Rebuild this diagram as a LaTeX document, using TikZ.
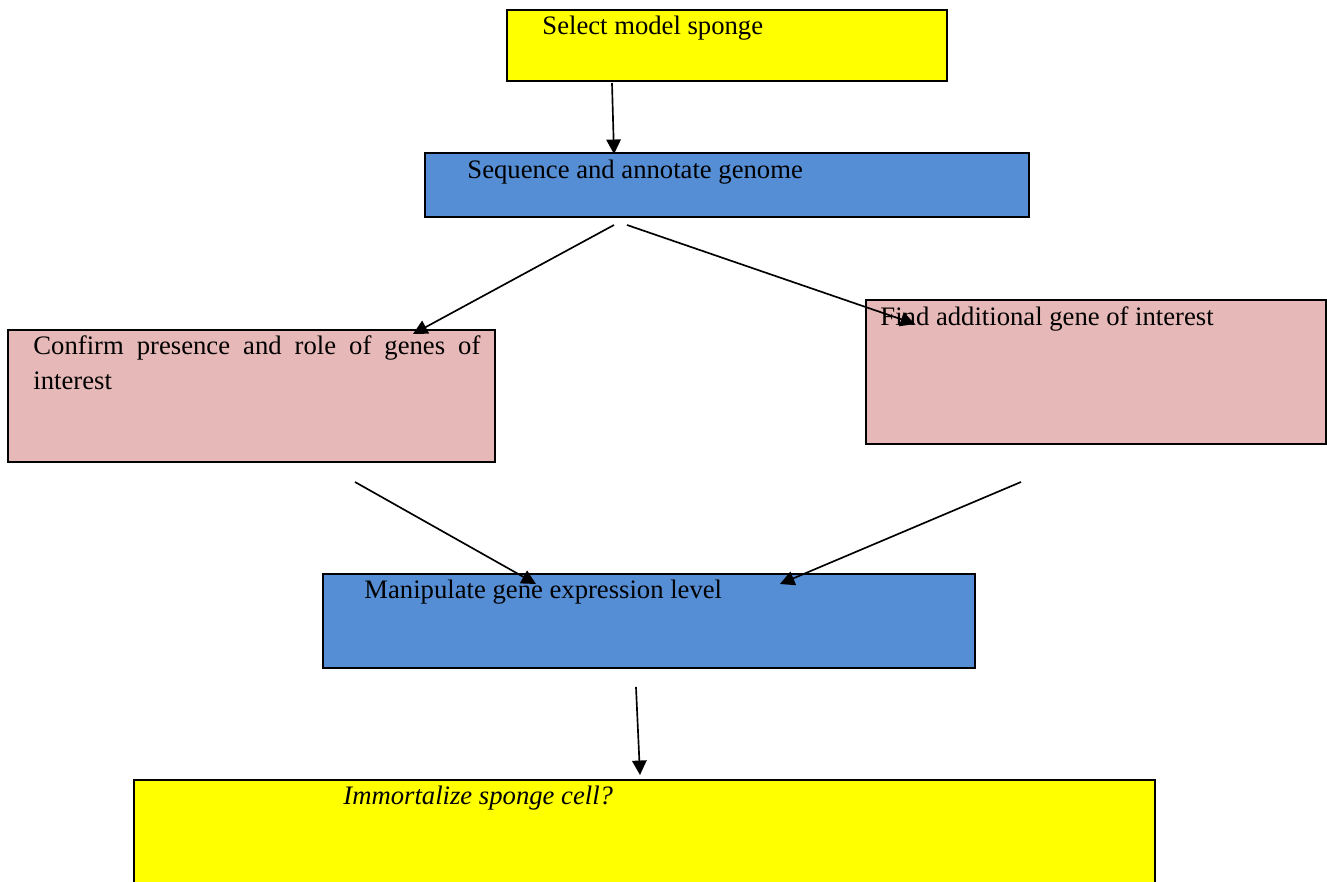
\documentclass[tikz,border=0pt]{standalone}
\usepackage{fontspec}
\setmainfont{Liberation Serif}
\usetikzlibrary{arrows.meta}
\definecolor{yel}{RGB}{255,255,0}
\definecolor{blu}{RGB}{85,142,213}
\definecolor{pnk}{RGB}{230,184,183}
\tikzset{
  box/.style={draw=black, line width=1pt, inner sep=0pt, outer sep=0pt, anchor=north west},
  txt/.style={anchor=base west, inner sep=0pt, font=\fontsize{12}{15.75}\selectfont},
  arr/.style={line width=0.75pt, -{Triangle[length=6.5pt,width=6.5pt]}}
}
\begin{document}
\begin{tikzpicture}[x=0.45pt,y=-0.45pt]
\useasboundingbox (0,0) rectangle (1327,882);
% boxes
\node[box, fill=yel, minimum width=440*0.45pt, minimum height=71*0.45pt] (select) at (507,10) {};
\node[box, fill=blu, minimum width=604*0.45pt, minimum height=64*0.45pt] (seq) at (425,153) {};
\node[box, fill=pnk, minimum width=487*0.45pt, minimum height=132*0.45pt] (conf) at (8,330) {};
\node[box, fill=pnk, minimum width=460*0.45pt, minimum height=144*0.45pt] (find) at (866,300) {};
\node[box, fill=blu, minimum width=652*0.45pt, minimum height=94*0.45pt] (manip) at (323,574) {};
\node[box, fill=yel, minimum width=1021*0.45pt, minimum height=140*0.45pt] (immo) at (134,780) {};
% texts
\node[txt] (selectT) at (542,35) {Select model sponge};
\node[txt] (seqT) at (467,179) {Sequence and annotate genome};
\node[txt, align=left] (confT) at (33,390) {\makebox[201.15pt][s]{Confirm presence and role of genes of}\\interest};
\node[txt] (findT) at (880,326) {Find additional gene of interest};
\node[txt] (manipT) at (364,599) {Manipulate gene expression level};
\node[txt, font=\fontsize{12}{15.75}\selectfont\itshape] (immoT) at (343,805) {Immortalize sponge cell?};
% connector end points
\coordinate (a1s) at (612,83);   \coordinate (a1e) at (614,154);
\coordinate (a2s) at (614,225);  \coordinate (a2e) at (413,334);
\coordinate (a3s) at (627,225);  \coordinate (a3e) at (915,324);
\coordinate (a4s) at (355,482);  \coordinate (a4e) at (536,584);
\coordinate (a5s) at (1021,482); \coordinate (a5e) at (780,584);
\coordinate (a6s) at (636,687);  \coordinate (a6e) at (640,775);
\draw[arr] (a1s) -- (a1e);
\draw[arr] (a2s) -- (a2e);
\draw[arr] (a3s) -- (a3e);
\draw[arr] (a4s) -- (a4e);
\draw[arr] (a5s) -- (a5e);
\draw[arr] (a6s) -- (a6e);
\end{tikzpicture}
\end{document}
